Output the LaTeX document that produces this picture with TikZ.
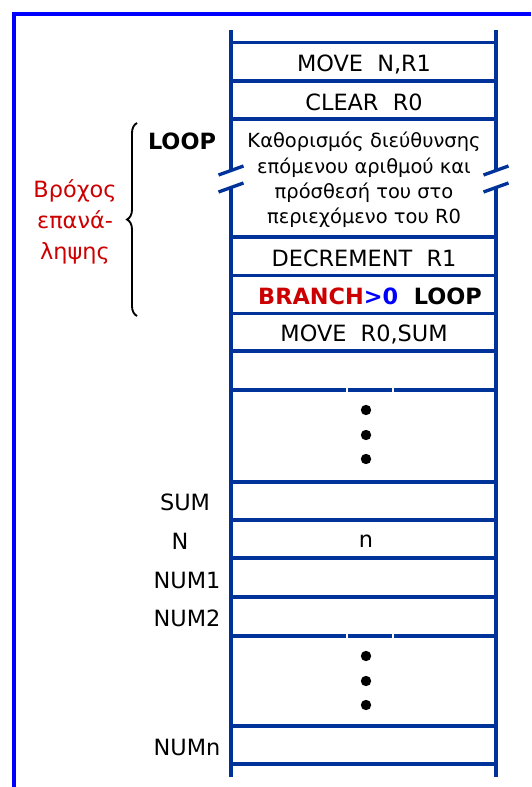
\documentclass[tikz,border=0pt]{standalone}
\usepackage{fontspec}
\setmainfont{DejaVu Sans}
\usetikzlibrary{decorations.pathreplacing, positioning}

\begin{document}
\begin{tikzpicture}[
    x=0.75pt, y=-0.75pt,
    every node/.style={inner sep=0pt},
]

\definecolor{memblue}{HTML}{003399}
\definecolor{framecol}{HTML}{0000FF}
\definecolor{loopred}{HTML}{CC0000}

% ================================================================
%  GEOMETRY, in pixels of the 531 x 787 page, y running down.
%
%  Memory column: walls at x = 231 and x = 496, from y = 30 to 777.
%  Word lines at 42.5, 81, 119 | 237, 275.5, 313.5, 351, 390 |
%  482, 520, 558, 597, 636 | 726, 764.  The loop body (119..237)
%  is three words tall and both walls are cut by a break mark.
%  Lines at 390 and 636 (above the dots) are broken twice.
%  Labels to the left are centred on x = 185.
% ================================================================

\tikzset{
  frame/.style={draw=framecol, line width=3pt},
  mem/.style={draw=memblue, line width=2.5pt},
  cell/.style={font=\fontsize{16.8}{20}\selectfont},
  boldcell/.style={font=\fontsize{16.8}{20}\selectfont\bfseries},
  note/.style={font=\fontsize{14.6}{18.9}\selectfont, align=center},
  addr/.style={font=\fontsize{16.8}{20}\selectfont},
  remark/.style={font=\fontsize{16.8}{23.25}\selectfont, text=loopred,
                 align=center},
  memdot/.style={fill=black},
}

\def\xl{231}
\def\xr{496}
\def\xm{364}

\useasboundingbox (0,0) rectangle (531,787);

% ---------------------------------------------------------------- frame
\draw[frame] (13.7,787) -- (13.7,13.7) -- (531,13.7);

% ---------------------------------------------------------------- walls
\foreach \x in {\xl, \xr} {
    \draw[mem] (\x,30) -- (\x,170.5);
    \draw[mem] (\x,187.5) -- (\x,777);
    % break mark
    \draw[mem] (\x-12.5,175) -- (\x+12.5,166);
    \draw[mem] (\x-12.5,192) -- (\x+12.5,183);
}

% ---------------------------------------------------------------- words
\foreach \y in {42.5, 81, 119, 237, 275.5, 313.5, 351,
                482, 520, 558, 597, 726, 764}
    \draw[mem] (\xl,\y) -- (\xr,\y);
\foreach \y in {390, 636} {
    \draw[mem] (\xl,\y) -- (346,\y);
    \draw[mem] (347.5,\y) -- (392,\y);
    \draw[mem] (393.5,\y) -- (\xr,\y);
}

% ---------------------------------------------------------------- program
\node[cell] (movn) at (\xm,64) {MOVE~~N,R1};
\node[cell] (clr) at (\xm,102) {CLEAR~~R0};
\node[note] (addnext) at (\xm,180)
    {Καθορισμός διεύθυνσης\\επόμενου αριθμού και\\πρόσθεσή του στο\\περιεχόμενο του R0};
\node[cell] (decr) at (\xm,258) {DECREMENT~~R1};
\node[boldcell] (brnch) at (370,296)
    {\textcolor{loopred}{BRANCH}\textcolor{framecol}{>0}~~LOOP};
\node[cell] (mvsum) at (\xm,334) {MOVE~~R0,SUM};

% ---------------------------------------------------------------- dots
\foreach \y in {410, 435, 459, 656, 681, 705}
    \fill[memdot] (366,\y) circle (3.9pt);

% ---------------------------------------------------------------- data
\node[cell] (nval) at (366,541) {n};

\node[addr] (sum) at (185,502) {SUM};
\node[addr] (naddr) at (180,541) {N};
\node[addr] (num1) at (187,580) {NUM1};
\node[addr] (num2) at (187,618) {NUM2};
\node[addr] (numn) at (187,747) {NUMn};

% ---------------------------------------------------------------- loop
\node[boldcell] (loop) at (182,141) {LOOP};
\draw[decorate, decoration={brace, amplitude=7.5pt}, line width=1.4pt]
    (137,316) -- (137,123);
\node[remark] (brochos) at (75,222) {Βρόχος\\επανά-\\ληψης};

\end{tikzpicture}
\end{document}
